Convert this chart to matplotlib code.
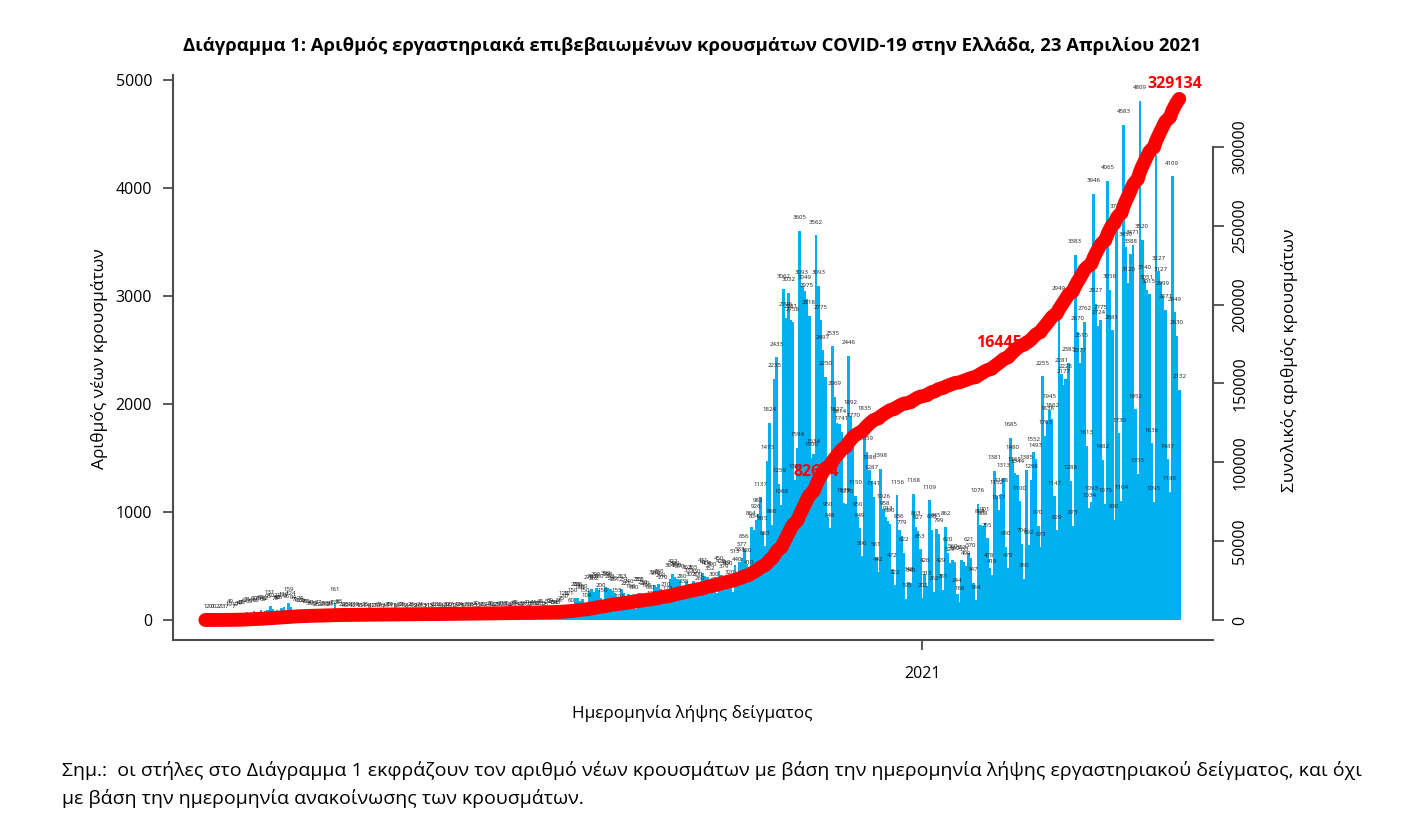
import numpy as np
import matplotlib
matplotlib.use('Agg')
import matplotlib.pyplot as plt

plt.rcParams['font.family'] = ['Open Sans', 'DejaVu Sans']

# ---- daily new cases by sample date (26 Feb 2020 - 22 Apr 2021) ----
feb_2020 = [1, 2, 0, 0]
mar_2020 = [0, 2, 2, 1, 3, 7, 19, 49, 7, 19, 34, 41, 38, 62, 71, 55, 64, 80, 58, 75,
            88, 69, 82, 95, 131, 102, 78, 90, 85, 107, 117]
apr_2020 = [96, 159, 124, 84, 70, 62, 74, 60, 48, 55, 36, 41, 30, 26, 37, 22, 28, 19, 31, 24,
            45, 161, 38, 53, 22, 16, 25, 14, 19, 12]
may_2020 = [18, 9, 15, 11, 23, 14, 8, 12, 17, 10, 21, 16, 7, 13, 25, 19, 11, 8, 15, 22,
            18, 10, 6, 14, 20, 12, 9, 16, 24, 13, 7]
jun_2020 = [11, 15, 9, 22, 14, 18, 8, 12, 20, 16, 27, 10, 13, 19, 24, 9, 17, 21, 11, 26,
            15, 30, 12, 18, 23, 8, 19, 28, 14, 22]
jul_2020 = [25, 18, 31, 20, 35, 14, 22, 29, 38, 24, 19, 33, 27, 41, 22, 30, 44, 36, 28, 48,
            33, 25, 52, 60, 45, 38, 40, 58, 75, 128, 97]
aug_2020 = [121, 60, 150, 206, 205, 180, 190, 150, 108, 270, 283, 262, 296, 280, 200, 150,
            309, 298, 283, 265, 251, 155, 101, 283, 251, 221, 240, 190, 180, 99, 253]
sep_2020 = [251, 230, 220, 195, 180, 129, 320, 310, 330, 290, 270, 210, 173, 384, 422, 399,
            380, 370, 280, 235, 362, 335, 302, 365, 330, 300, 260, 431, 411, 400]
oct_2020 = [352, 390, 300, 250, 450, 420, 379, 410, 400, 320, 260, 513, 440, 533, 577, 656,
            520, 410, 864, 834, 926, 982, 1137, 815, 683, 1473, 1824, 880, 2235, 2433, 1259]
nov_2020 = [1068, 3062, 2796, 3032, 2781, 2758, 1300, 1594, 3605, 3093, 3049, 2975, 2818,
            1500, 1534, 3562, 3093, 2775, 2497, 2250, 950, 848, 2535, 2069, 1827, 1814, 1741,
            1079, 1070, 2446]
dec_2020 = [1892, 1770, 1150, 950, 849, 590, 1835, 1559, 1386, 1287, 1141, 581, 442, 1398,
            1026, 958, 913, 890, 472, 322, 1156, 836, 779, 622, 195, 348, 340, 1168, 863, 827,
            653]
jan_2021 = [202, 426, 313, 1109, 835, 262, 845, 799, 429, 281, 862, 620, 529, 560, 540, 244,
            168, 553, 533, 499, 621, 570, 347, 184, 1076, 884, 868, 901, 755, 478, 419]
feb_2021 = [1381, 1152, 1017, 1168, 1313, 680, 478, 1685, 1480, 1365, 1344, 1100, 704, 380,
            1385, 692, 1298, 1552, 1493, 870, 673, 2255, 1705, 1838, 1945, 1862, 1147, 829]
mar_2021 = [2949, 2281, 2177, 2228, 2383, 1288, 873, 3383, 2670, 2377, 2515, 2762, 1613, 1034,
            1093, 3946, 2927, 2724, 2775, 1482, 1075, 4065, 3056, 2681, 930, 3711, 1730, 1104,
            4583, 3450, 3120]
apr_2021 = [3388, 3471, 1952, 1355, 4809, 3520, 3140, 3051, 3015, 1636, 1095, 4306, 3227,
            3127, 2999, 2871, 1487, 1188, 4109, 2849, 2630, 2132]

months_2020 = [feb_2020, mar_2020, apr_2020, may_2020, jun_2020, jul_2020, aug_2020,
               sep_2020, oct_2020, nov_2020, dec_2020]
months_2021 = [jan_2021, feb_2021, mar_2021, apr_2021]

cumulative_marks = [82634, 164451]
total_cases = 329134

left_ticks = [0, 1000, 2000, 3000, 4000, 5000]
right_ticks = [0, 50000, 100000, 150000, 200000, 250000, 300000]
x_tick_label = '2021'

title = ('Διάγραμμα 1: Αριθμός εργαστηριακά επιβεβαιωμένων κρουσμάτων COVID-19 '
         'στην Ελλάδα, 23 Απριλίου 2021')
ylabel_left = 'Αριθμός νέων κρουσμάτων'
ylabel_right = 'Συνολικός αριθμός κρουσμάτων'
xlabel = 'Ημερομηνία λήψης δείγματος'
note1 = ('Σημ.:  οι στήλες στο Διάγραμμα 1 εκφράζουν τον αριθμό νέων κρουσμάτων με βάση '
         'την ημερομηνία λήψης εργαστηριακού δείγματος, και όχι')
note2 = 'με βάση την ημερομηνία ανακοίνωσης των κρουσμάτων.'

# ---- derived ----
daily = np.array(sum(months_2020 + months_2021, []))
days = np.arange(len(daily))
cumulative = np.cumsum(daily)
pos_2021 = sum(len(m) for m in months_2020)

W, H = 1414, 814
fig = plt.figure(figsize=(W / 100, H / 100), dpi=100)
ax = fig.add_axes([173 / W, 1 - 640 / H, (1213 - 173) / W, (640 - 75) / H])

BAR = '#00B0F0'
AXC = '#4d4d4d'

ax.bar(days, daily, width=1.2, color=BAR, linewidth=0, zorder=2)
for d, v in zip(days, daily):
    ax.annotate(str(v), (d, v), xytext=(0, 9.4), textcoords='offset points',
                ha='center', va='center', fontsize=4.4, color='#1a1a1a', zorder=3)

ax.set_xlim(-14.0, 435.6)
ax.set_ylim(-185.2, 5046.3)
ax.set_yticks(left_ticks)
ax.set_yticklabels([str(t) for t in left_ticks])
ax.set_xticks([pos_2021])
ax.set_xticklabels([x_tick_label])
for s in ['top', 'right']:
    ax.spines[s].set_visible(False)
for s in ['left', 'bottom']:
    ax.spines[s].set_color(AXC)
    ax.spines[s].set_linewidth(1.5)
ax.tick_params(axis='y', length=7, width=1.3, color=AXC, labelsize=11.5, pad=8)
ax.tick_params(axis='x', length=7, width=1.3, color=AXC, labelsize=11.5, pad=12)

ax2 = ax.twinx()
ax2.set_ylim(-12685, 345660)
ax2.plot(days, cumulative, color='#ff0000', lw=10, solid_capstyle='round', zorder=3)
for val in cumulative_marks:
    i = int(np.searchsorted(cumulative, val))
    ax2.text(i, val + 11000, str(val), color='#ff0000', fontsize=11.5, fontweight='bold',
             ha='center', va='center', zorder=2)
ax2.text(days[-1] - 2, total_cases + 11000, str(total_cases), color='#ff0000', fontsize=11.5,
         fontweight='bold', ha='center', va='center', zorder=4)

ax2.set_yticks(right_ticks)
ax2.set_yticklabels([str(t) for t in right_ticks])
for s in ['top', 'left', 'bottom']:
    ax2.spines[s].set_visible(False)
ax2.spines['right'].set_bounds(0, 300000)
ax2.spines['right'].set_color(AXC)
ax2.spines['right'].set_linewidth(1.5)
ax2.tick_params(axis='y', length=8, width=1.3, color=AXC, labelsize=11.5, pad=6)
for lab in ax2.get_yticklabels():
    lab.set_rotation(90)
    lab.set_va('center')

fig.text(692 / W, 1 - 46 / H, title, ha='center', va='center', fontsize=13.3, fontweight='bold')
fig.text(100 / W, 1 - 359 / H, ylabel_left, rotation=90, ha='center', va='center', fontsize=12.5)
fig.text(1290 / W, 1 - 360 / H, ylabel_right, rotation=90, ha='center', va='center', fontsize=12.5)
fig.text(692 / W, 1 - 713 / H, xlabel, ha='center', va='center', fontsize=12.3)
fig.text(62 / W, 1 - 770 / H, note1, ha='left', va='center', fontsize=14)
fig.text(62 / W, 1 - 799 / H, note2, ha='left', va='center', fontsize=14)

fig.savefig('out.png', dpi=100)
